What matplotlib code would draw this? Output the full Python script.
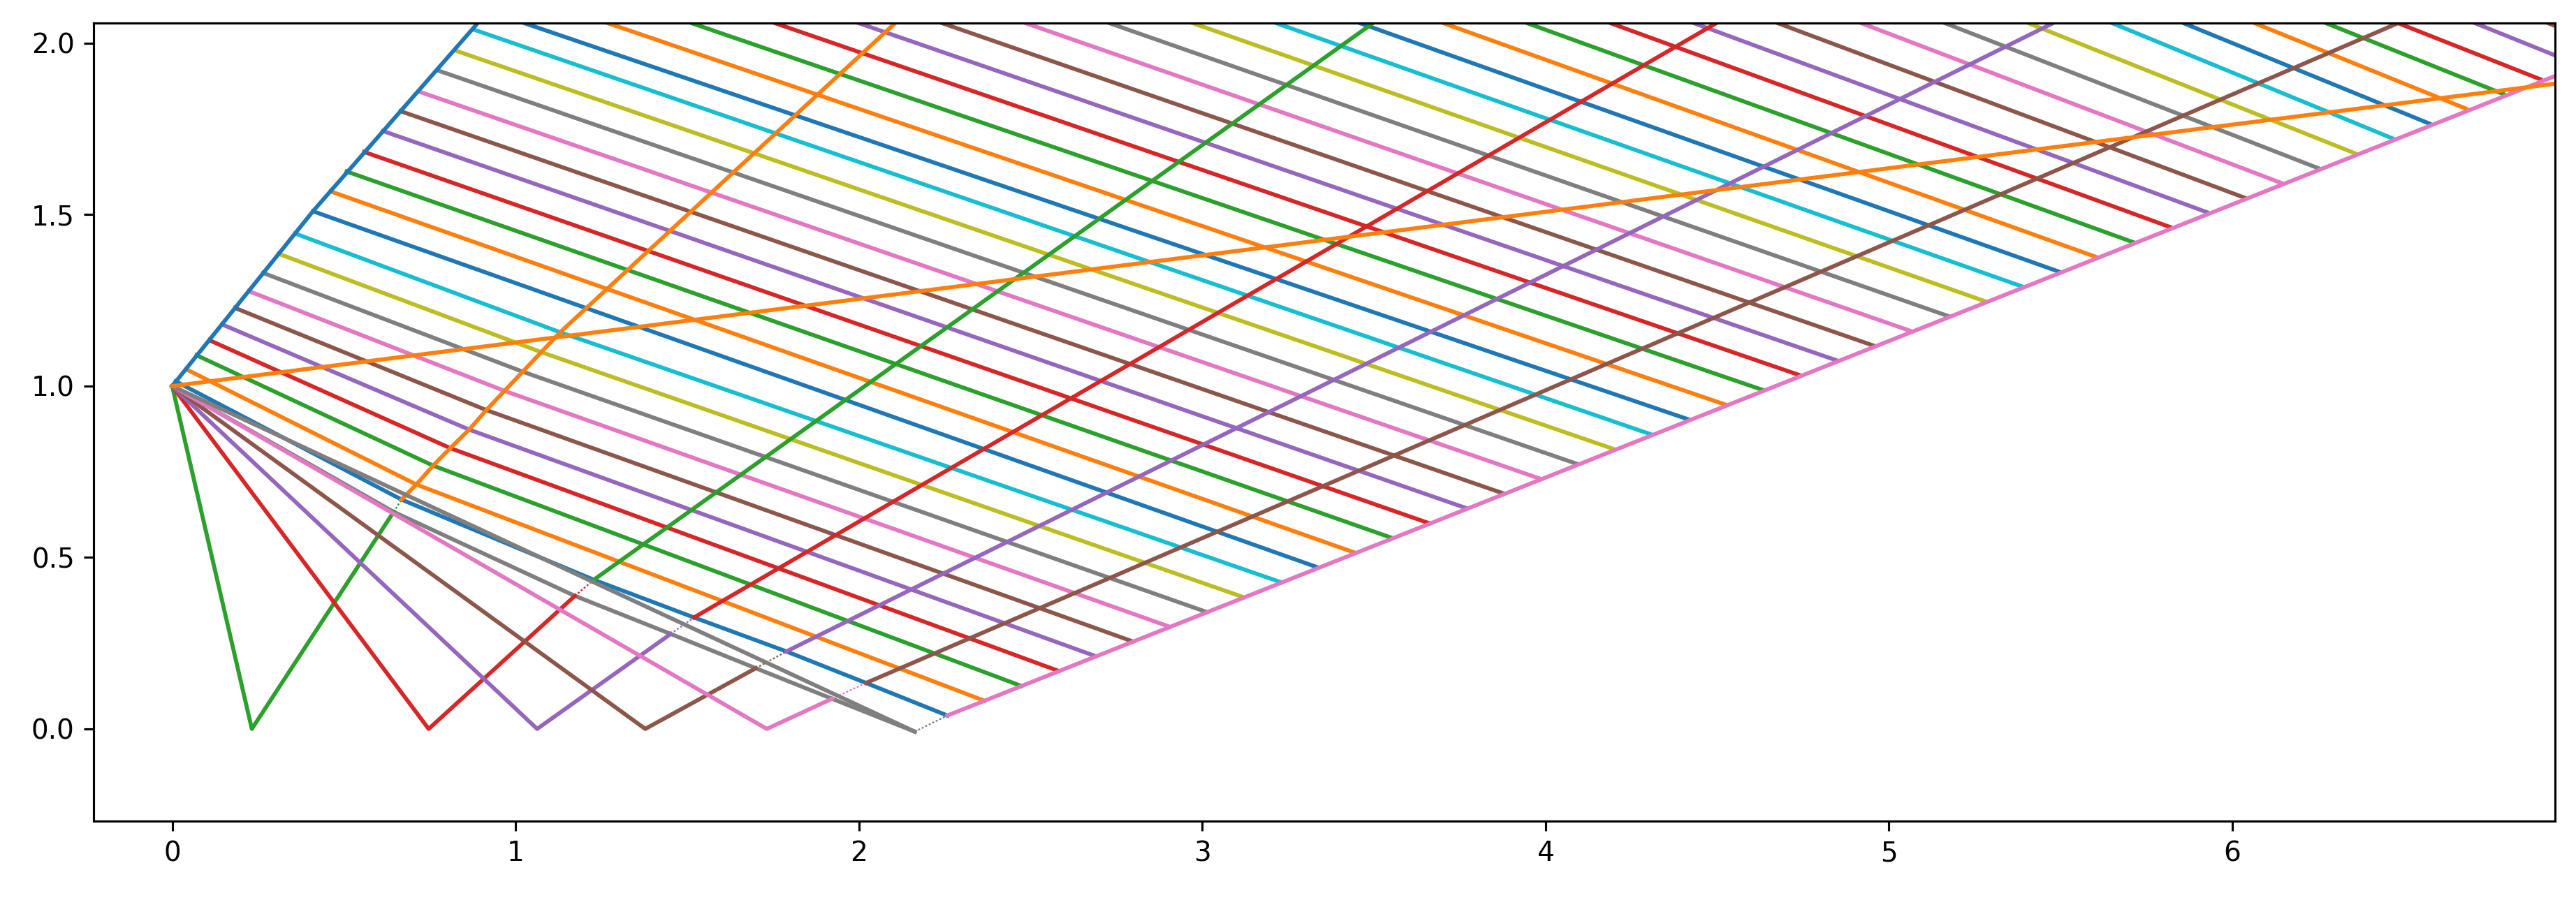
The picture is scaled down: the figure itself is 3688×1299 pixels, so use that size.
import matplotlib
matplotlib.use("Agg")
import matplotlib.pyplot as plt

# ---------------- data ----------------
origin_x, origin_y = 0.0, 1.0

# steep boundary line (blue)
steep_x = [0.0, 0.41, 0.89]
steep_y = [1.0, 1.51, 2.059]

# descending lines k = 0..19 start on the steep line
start_x = [0.010, 0.041, 0.071, 0.108, 0.145, 0.183, 0.223, 0.265, 0.310, 0.358,
           0.410, 0.461, 0.508, 0.559, 0.614, 0.665, 0.719, 0.773, 0.827, 0.881]
start_y = [1.014, 1.049, 1.090, 1.134, 1.180, 1.228, 1.277, 1.330, 1.386, 1.445,
           1.510, 1.568, 1.626, 1.683, 1.744, 1.802, 1.859, 1.921, 1.978, 2.039]

# descending lines k = 20..45 enter through the top edge
top_x = [1.025, 1.268, 1.512, 1.755, 1.999, 2.242, 2.485, 2.729, 2.972, 3.215,
         3.459, 3.702, 3.946, 4.189, 4.432, 4.676, 4.919, 5.163, 5.406, 5.650,
         5.858, 6.065, 6.273, 6.483, 6.707, 6.920]
top_y = 2.059

# descending lines k = 0..43 end on the lower-right (pink) boundary
end_x = [2.258, 2.366, 2.474, 2.582, 2.690, 2.798, 2.905, 3.013, 3.121, 3.229,
         3.337, 3.445, 3.553, 3.661, 3.769, 3.877, 3.984, 4.092, 4.200, 4.308,
         4.416, 4.524, 4.632, 4.740, 4.848, 4.956, 5.063, 5.171, 5.279, 5.387,
         5.495, 5.603, 5.711, 5.819, 5.927, 6.035, 6.142, 6.250, 6.358, 6.466,
         6.574, 6.682, 6.790, 6.898]
end_y = [0.039, 0.082, 0.125, 0.169, 0.212, 0.255, 0.298, 0.341, 0.384, 0.428,
         0.471, 0.514, 0.557, 0.600, 0.644, 0.687, 0.730, 0.773, 0.816, 0.859,
         0.903, 0.946, 0.989, 1.032, 1.075, 1.118, 1.161, 1.205, 1.248, 1.291,
         1.334, 1.377, 1.420, 1.464, 1.507, 1.550, 1.593, 1.636, 1.679, 1.723,
         1.766, 1.809, 1.852, 1.895]
# lines 44, 45 leave through the right edge
right_x = 6.94
right_end_y = [1.965, 2.051]

# bend of lines k = 0..9 where they cross the first ascending line
kink_x = [0.668, 0.711, 0.760, 0.810, 0.865, 0.915, 0.968, 1.021, 1.075, 1.130]
kink_y = [0.669, 0.713, 0.768, 0.819, 0.873, 0.930, 0.986, 1.042, 1.099, 1.157]

# ascending lines j = 1..6: bottom (V), crossing with the gray line,
# bend on line 0, end at the frame
v_x = [0.232, 0.747, 1.063, 1.378, 1.732, 2.163]
v_y = [0.0, 0.0, 0.0, 0.0, 0.0, -0.008]
cross_x = [0.645, 1.173, 1.452, 1.700, 1.922, 2.163]
cross_y = [0.633, 0.388, 0.277, 0.177, 0.088, -0.008]
bend_x = [0.668, 1.228, 1.520, 1.789, 2.021, 2.258]
bend_y = [0.669, 0.435, 0.325, 0.226, 0.134, 0.039]
asc_end_x = [2.106, 3.498, 4.498, 5.479, 6.484, 6.94]
asc_end_y = [2.059, 2.059, 2.059, 2.059, 2.059, 1.904]

# nearly flat orange line
flat_x = [0.0, 6.94]
flat_y = [1.0, 1.882]

xlim = (-0.229, 6.940)
ylim = (-0.269, 2.059)

# ---------------- figure ----------------
DPI = 280
fig = plt.figure(figsize=(3688 / DPI, 1299 / DPI), dpi=DPI)
ax = fig.add_axes([0.03633, 0.09469, 0.95543, 0.87991])

LW = 1.5

# descending lines
n_rows = len(start_x) + len(top_x)
for k in range(n_rows):
    c = f"C{k % 10}"
    if k < len(start_x):
        xs, ys = [start_x[k]], [start_y[k]]
    else:
        xs, ys = [top_x[k - len(start_x)]], [top_y]
    if k == 0:
        xs += bend_x
        ys += bend_y
    else:
        if k < len(kink_x):
            xs.append(kink_x[k]); ys.append(kink_y[k])
        if k < len(end_x):
            xs.append(end_x[k]); ys.append(end_y[k])
        else:
            xs.append(right_x); ys.append(right_end_y[k - len(end_x)])
    ax.plot(xs, ys, color=c, lw=LW)

# gray lowest line from the origin through the crossings
ax.plot([origin_x] + cross_x, [origin_y] + cross_y, color="C7", lw=LW)

# ascending lines: fan from origin to the bottom, up to the bend, then on
for j in range(len(v_x)):
    low_c = f"C{j + 2}"
    up_c = f"C{j + 1}"
    ax.plot([origin_x, v_x[j], cross_x[j]], [origin_y, v_y[j], cross_y[j]],
            color=low_c, lw=LW)
    ax.plot([cross_x[j], bend_x[j]], [cross_y[j], bend_y[j]],
            color=low_c, lw=0.6, dashes=(1.2, 1.2))
    if j == 0:
        ux = [bend_x[0]] + kink_x[1:] + [asc_end_x[0]]
        uy = [bend_y[0]] + kink_y[1:] + [asc_end_y[0]]
    else:
        ux = [bend_x[j], asc_end_x[j]]
        uy = [bend_y[j], asc_end_y[j]]
    ax.plot(ux, uy, color=up_c, lw=LW)

# steep boundary
ax.plot(steep_x, steep_y, color="C0", lw=LW)
# flat orange
ax.plot(flat_x, flat_y, color="C1", lw=LW)

ax.set_xlim(*xlim)
ax.set_ylim(*ylim)
ax.set_xticks([0, 1, 2, 3, 4, 5, 6])
ax.set_yticks([0.0, 0.5, 1.0, 1.5, 2.0])

fig.savefig("out.png", dpi=DPI)
